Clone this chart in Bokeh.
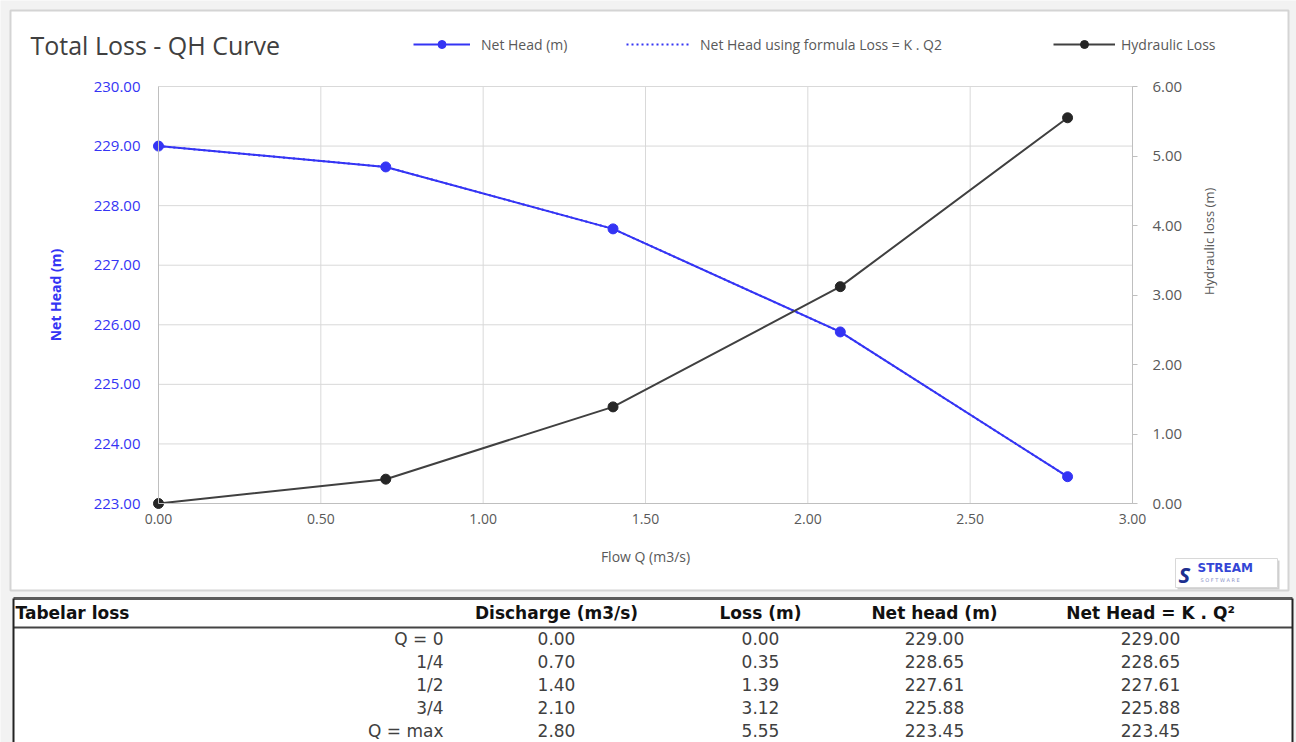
import math
from bokeh.plotting import figure
from bokeh.models import (Range1d, LinearAxis, NumeralTickFormatter, FixedTicker,
                          Legend, LegendItem, Label)
from bokeh.embed import file_html
from bokeh.resources import INLINE
from bokeh.core.properties import value

# ---------------- data ----------------
flow = [0.00, 0.70, 1.40, 2.10, 2.80]
net_head = [229.00, 228.65, 227.61, 225.88, 223.45]
net_head_formula = [229.00, 228.65, 227.61, 225.88, 223.45]
hyd_loss = [0.00, 0.35, 1.39, 3.12, 5.55]
row_labels = ["Q = 0", "1/4", "1/2", "3/4", "Q = max"]
header_labels = ["Tabelar loss", "Discharge (m3/s)", "Loss (m)", "Net head (m)", "Net Head = K . Q\u00b2"]
x_ticks = [0.0, 0.5, 1.0, 1.5, 2.0, 2.5, 3.0]
left_ticks = [223, 224, 225, 226, 227, 228, 229, 230]
right_ticks = [0, 1, 2, 3, 4, 5, 6]
X_LIM = (0, 3)
Y_LIM = (223, 230)
L_LIM = (0, 6)

# ---------------- layout constants (pixels) ----------------
W, H = 1296, 742
FL, FR, FT, FB = 158, 1132, 86, 503   # where the plot area sits on the page

FONT = "Open Sans"
TFONT = "DejaVu Sans"
BLUE = "#3434f4"
GTXT = "#595959"
GRID = "#d9d9d9"
AXC = "#bfbfbf"

sx = (FR - FL) / (X_LIM[1] - X_LIM[0])
sy = (FB - FT) / (Y_LIM[1] - Y_LIM[0])
sl = (FB - FT) / (L_LIM[1] - L_LIM[0])

p = figure(width=W, height=H,
           x_range=Range1d(X_LIM[0] - FL / sx, X_LIM[1] + (W - FR) / sx),
           y_range=Range1d(Y_LIM[0] - (H - FB) / sy, Y_LIM[1] + FT / sy),
           output_backend="svg", toolbar_location=None, min_border=0)
p.extra_y_ranges = {"loss": Range1d(L_LIM[0] - (H - FB) / sl, L_LIM[1] + FT / sl),
                    "px": Range1d(H, 0)}
p.extra_x_ranges = {"px": Range1d(0, W)}
p.outline_line_color = None
p.grid.visible = False
p.background_fill_color = "#f2f2f2"
p.border_fill_color = "#f2f2f2"

PX = dict(x_range_name="px", y_range_name="px")

# panel backgrounds
p.quad(left=[10], right=[1288], top=[10], bottom=[590], fill_color="white",
       line_color="#d4d4d4", line_width=2, level="underlay", **PX)
p.quad(left=[13], right=[1292], top=[598], bottom=[742], fill_color="white",
       line_color=None, level="underlay", **PX)

# grid lines (from tick arrays)
p.segment(x0=x_ticks, y0=[Y_LIM[0]] * len(x_ticks), x1=x_ticks, y1=[Y_LIM[1]] * len(x_ticks),
          line_color=GRID, line_width=1, level="underlay")
p.segment(x0=[X_LIM[0]] * len(left_ticks), y0=left_ticks, x1=[X_LIM[1]] * len(left_ticks),
          y1=left_ticks, line_color=GRID, line_width=1, level="underlay")

# ---------------- axes ----------------
ya = p.yaxis[0]
ya.fixed_location = X_LIM[0]
ya.bounds = Y_LIM
ya.ticker = FixedTicker(ticks=left_ticks)
ya.formatter = NumeralTickFormatter(format="0.00")
ya.axis_line_color = AXC
ya.major_tick_line_color = None
ya.major_tick_out = 0
ya.major_tick_in = 0
ya.minor_tick_line_color = None
ya.major_label_text_color = BLUE
ya.major_label_text_font = FONT
ya.major_label_text_font_size = "15px"
ya.major_label_standoff = 18
ya.axis_label = "Net Head (m)"
ya.axis_label_text_color = BLUE
ya.axis_label_text_font = FONT
ya.axis_label_text_font_style = "bold"
ya.axis_label_text_font_size = "14px"
ya.axis_label_standoff = 26

xa = p.xaxis[0]
xa.fixed_location = Y_LIM[0]
xa.bounds = X_LIM
xa.ticker = FixedTicker(ticks=x_ticks)
xa.formatter = NumeralTickFormatter(format="0.00")
xa.axis_line_color = AXC
xa.major_tick_line_color = None
xa.major_tick_out = 0
xa.major_tick_in = 0
xa.minor_tick_line_color = None
xa.major_label_text_color = GTXT
xa.major_label_text_font = FONT
xa.major_label_text_font_size = "14px"
xa.major_label_standoff = 10
xa.axis_label = "Flow Q (m3/s)"
xa.axis_label_text_color = GTXT
xa.axis_label_text_font = FONT
xa.axis_label_text_font_style = "normal"
xa.axis_label_text_font_size = "14px"
xa.axis_label_standoff = 20

ra = LinearAxis(y_range_name="loss", ticker=FixedTicker(ticks=right_ticks),
                formatter=NumeralTickFormatter(format="0.00"))
ra.fixed_location = X_LIM[1]
ra.bounds = L_LIM
ra.axis_line_color = AXC
ra.major_tick_line_color = AXC
ra.major_tick_out = 5
ra.major_tick_in = 0
ra.minor_tick_line_color = None
ra.major_label_text_color = GTXT
ra.major_label_text_font = FONT
ra.major_label_text_font_size = "15px"
ra.major_label_standoff = 15
ra.axis_label = "Hydraulic loss (m)"
ra.axis_label_orientation = math.pi / 2
ra.axis_label_text_color = GTXT
ra.axis_label_text_font = FONT
ra.axis_label_text_font_style = "normal"
ra.axis_label_text_font_size = "13px"
ra.axis_label_standoff = 24
p.add_layout(ra, "right")

# ---------------- series ----------------
r_dot = p.line(flow, net_head_formula, line_color=BLUE, line_width=2, line_dash="2 3")
r_nh = p.line(flow, net_head, line_color=BLUE, line_width=2)
s_nh = p.scatter(flow, net_head, size=10, fill_color=BLUE, line_color=BLUE)
r_hl = p.line(flow, hyd_loss, y_range_name="loss", line_color="#404040", line_width=2)
s_hl = p.scatter(flow, hyd_loss, y_range_name="loss", size=10, fill_color="#262626",
                 line_color="#262626")

def mk_legend(label, renderers, x, gw, standoff):
    lg = Legend(items=[LegendItem(label=label, renderers=renderers)], location=(x, H - 54),
                orientation="horizontal", padding=0, margin=0, border_line_color=None,
                background_fill_alpha=0, glyph_width=gw, glyph_height=20, label_height=20,
                label_standoff=standoff, label_text_font=FONT, label_text_font_size="14px",
                label_text_color=GTXT)
    p.add_layout(lg, "center")

mk_legend("Net Head (m)", [r_nh, s_nh], 413, 57, 11)
mk_legend("Net Head using formula Loss = K . Q2", [r_dot], 626, 64, 10)
mk_legend("Hydraulic Loss", [r_hl, s_hl], 1053, 62, 6)

p.add_layout(Label(x=30, y=44, text="Total Loss - QH Curve", text_font=FONT,
                   text_font_size="25px", text_color="#404040", text_baseline="middle", **PX))

# logo
p.quad(left=[1177], right=[1279], top=[560], bottom=[589], fill_color="#cfcfcf",
       line_color=None, **PX)
p.quad(left=[1175], right=[1277], top=[558], bottom=[587], fill_color="white",
       line_color="#d8d8d8", **PX)
p.add_layout(Label(x=1178, y=573, text="S", text_font=FONT, text_font_style="bold italic",
                   text_font_size="22px", text_color="#1c2f8f", text_baseline="middle", **PX))
p.add_layout(Label(x=1197, y=567, text="STREAM", text_font=TFONT, text_font_style="bold",
                   text_font_size="12px", text_color="#3446d6", text_baseline="middle", **PX))
p.add_layout(Label(x=1200, y=579, text="S O F T W A R E", text_font=TFONT,
                   text_font_size="5px", text_color="#8a93c8", text_baseline="middle", **PX))

# ---------------- table ----------------
p.segment(x0=[13], y0=[598], x1=[1292], y1=[598], line_color="#5a5a5a", line_width=3, **PX)
p.segment(x0=[13], y0=[627], x1=[1292], y1=[627], line_color="#444444", line_width=2, **PX)
p.segment(x0=[13, 1292], y0=[598, 598], x1=[13, 1292], y1=[742, 742], line_color="#222222",
          line_width=2, **PX)

TF = value(TFONT)
col_x = [15, 556, 760, 934, 1150]
col_align = ["left", "center", "center", "center", "center"]
for i, h in enumerate(header_labels):
    p.text(x=[col_x[i]], y=[612], text=[h], text_font=TF, text_font_style="bold",
           text_font_size="17px", text_color="#111111", text_align=col_align[i],
           text_baseline="middle", **PX)

row_y = [638, 661, 684, 707, 730]
p.text(x=[443] * len(row_labels), y=row_y, text=row_labels, text_font=TF, text_font_size="17px",
       text_color="#404040", text_align="right", text_baseline="middle", **PX)
cols = [flow, hyd_loss, net_head, net_head_formula]
for j, vals in enumerate(cols):
    p.text(x=[col_x[j + 1]] * len(vals), y=row_y, text=[f"{v:.2f}" for v in vals], text_font=TF,
           text_font_size="17px", text_color="#404040", text_align="center",
           text_baseline="middle", **PX)

open("out.html", "w").write(file_html(p, INLINE))
